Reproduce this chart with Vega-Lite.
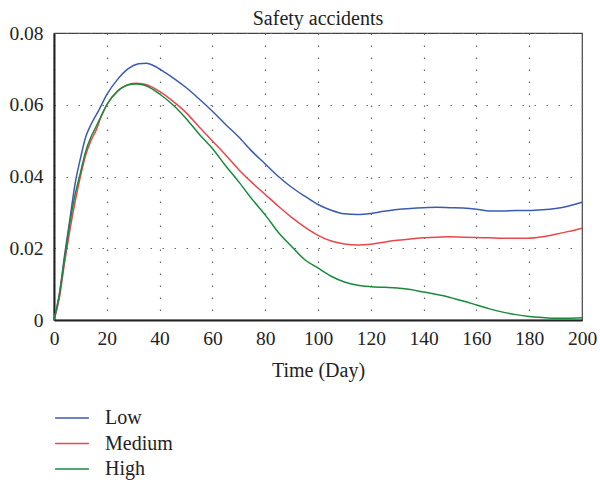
{
  "$schema": "https://vega.github.io/schema/vega-lite/v6.json",
  "autosize": "none",
  "width": 528,
  "height": 287,
  "padding": {"left": 54, "top": 33, "right": 18, "bottom": 163},
  "background": "white",
  "title": {"text": "Safety accidents", "font": "Liberation Serif", "fontSize": 20, "fontWeight": "normal", "color": "#222", "offset": 0, "dy": 6, "anchor": "middle", "frame": "group"},
  "config": {
    "view": {"stroke": "#444", "strokeWidth": 1.2},
    "axis": {"labelFont": "Liberation Serif", "titleFont": "Liberation Serif", "labelFontSize": 19.5, "titleFontSize": 20, "titleFontWeight": "normal", "labelColor": "#222", "titleColor": "#222", "domainColor": "#222", "domainWidth": 2, "ticks": false, "gridColor": "#666", "gridDash": [1.5, 10.5], "gridWidth": 1.2, "gridOpacity": 1}
  },
  "data": {"values": [
    {"t":0,"v":0,"s":"Low"},{"t":2,"v":0.007,"s":"Low"},{"t":4,"v":0.018,"s":"Low"},{"t":6,"v":0.028,"s":"Low"},{"t":8,"v":0.038,"s":"Low"},{"t":10,"v":0.045,"s":"Low"},{"t":12,"v":0.051,"s":"Low"},{"t":14,"v":0.0545,"s":"Low"},{"t":17,"v":0.0585,"s":"Low"},{"t":20,"v":0.0628,"s":"Low"},{"t":24,"v":0.0670,"s":"Low"},{"t":28,"v":0.0700,"s":"Low"},{"t":32,"v":0.0714,"s":"Low"},{"t":35,"v":0.0716,"s":"Low"},{"t":38,"v":0.0708,"s":"Low"},{"t":42,"v":0.0690,"s":"Low"},{"t":46,"v":0.0670,"s":"Low"},{"t":50,"v":0.0648,"s":"Low"},{"t":55,"v":0.0616,"s":"Low"},{"t":60,"v":0.0582,"s":"Low"},{"t":65,"v":0.0545,"s":"Low"},{"t":70,"v":0.0510,"s":"Low"},{"t":75,"v":0.0470,"s":"Low"},{"t":80,"v":0.0435,"s":"Low"},{"t":85,"v":0.0400,"s":"Low"},{"t":90,"v":0.0370,"s":"Low"},{"t":95,"v":0.0345,"s":"Low"},{"t":100,"v":0.0322,"s":"Low"},{"t":105,"v":0.0306,"s":"Low"},{"t":110,"v":0.0296,"s":"Low"},{"t":115,"v":0.0294,"s":"Low"},{"t":120,"v":0.0297,"s":"Low"},{"t":125,"v":0.0303,"s":"Low"},{"t":130,"v":0.0308,"s":"Low"},{"t":135,"v":0.0311,"s":"Low"},{"t":140,"v":0.0313,"s":"Low"},{"t":145,"v":0.0314,"s":"Low"},{"t":150,"v":0.0313,"s":"Low"},{"t":155,"v":0.0312,"s":"Low"},{"t":160,"v":0.0309,"s":"Low"},{"t":165,"v":0.0304,"s":"Low"},{"t":170,"v":0.0304,"s":"Low"},{"t":175,"v":0.0305,"s":"Low"},{"t":180,"v":0.0305,"s":"Low"},{"t":185,"v":0.0307,"s":"Low"},{"t":190,"v":0.0311,"s":"Low"},{"t":195,"v":0.0318,"s":"Low"},{"t":200,"v":0.0328,"s":"Low"},
    {"t":0,"v":0,"s":"Medium"},{"t":2,"v":0.006,"s":"Medium"},{"t":4,"v":0.016,"s":"Medium"},{"t":6,"v":0.025,"s":"Medium"},{"t":8,"v":0.033,"s":"Medium"},{"t":10,"v":0.040,"s":"Medium"},{"t":12,"v":0.046,"s":"Medium"},{"t":14,"v":0.050,"s":"Medium"},{"t":16,"v":0.053,"s":"Medium"},{"t":18,"v":0.057,"s":"Medium"},{"t":20,"v":0.060,"s":"Medium"},{"t":24,"v":0.0638,"s":"Medium"},{"t":28,"v":0.0656,"s":"Medium"},{"t":31,"v":0.0660,"s":"Medium"},{"t":34,"v":0.0658,"s":"Medium"},{"t":37,"v":0.0650,"s":"Medium"},{"t":40,"v":0.0637,"s":"Medium"},{"t":45,"v":0.0610,"s":"Medium"},{"t":50,"v":0.0578,"s":"Medium"},{"t":55,"v":0.0538,"s":"Medium"},{"t":60,"v":0.0499,"s":"Medium"},{"t":65,"v":0.0460,"s":"Medium"},{"t":70,"v":0.0419,"s":"Medium"},{"t":75,"v":0.0383,"s":"Medium"},{"t":80,"v":0.0350,"s":"Medium"},{"t":85,"v":0.0317,"s":"Medium"},{"t":90,"v":0.0286,"s":"Medium"},{"t":95,"v":0.0259,"s":"Medium"},{"t":100,"v":0.0236,"s":"Medium"},{"t":105,"v":0.0220,"s":"Medium"},{"t":110,"v":0.0212,"s":"Medium"},{"t":115,"v":0.0209,"s":"Medium"},{"t":120,"v":0.0211,"s":"Medium"},{"t":125,"v":0.0217,"s":"Medium"},{"t":130,"v":0.0222,"s":"Medium"},{"t":135,"v":0.0226,"s":"Medium"},{"t":140,"v":0.0229,"s":"Medium"},{"t":145,"v":0.0231,"s":"Medium"},{"t":150,"v":0.0232,"s":"Medium"},{"t":155,"v":0.0231,"s":"Medium"},{"t":160,"v":0.0230,"s":"Medium"},{"t":165,"v":0.0229,"s":"Medium"},{"t":170,"v":0.0228,"s":"Medium"},{"t":175,"v":0.0228,"s":"Medium"},{"t":180,"v":0.0228,"s":"Medium"},{"t":185,"v":0.0232,"s":"Medium"},{"t":190,"v":0.0239,"s":"Medium"},{"t":195,"v":0.0247,"s":"Medium"},{"t":200,"v":0.0256,"s":"Medium"},
    {"t":0,"v":0,"s":"High"},{"t":2,"v":0.007,"s":"High"},{"t":4,"v":0.017,"s":"High"},{"t":6,"v":0.027,"s":"High"},{"t":8,"v":0.035,"s":"High"},{"t":10,"v":0.041,"s":"High"},{"t":12,"v":0.047,"s":"High"},{"t":14,"v":0.051,"s":"High"},{"t":16,"v":0.054,"s":"High"},{"t":18,"v":0.057,"s":"High"},{"t":20,"v":0.0600,"s":"High"},{"t":24,"v":0.0637,"s":"High"},{"t":28,"v":0.0655,"s":"High"},{"t":31,"v":0.0658,"s":"High"},{"t":34,"v":0.0655,"s":"High"},{"t":37,"v":0.0645,"s":"High"},{"t":40,"v":0.0630,"s":"High"},{"t":45,"v":0.0600,"s":"High"},{"t":50,"v":0.0562,"s":"High"},{"t":55,"v":0.0518,"s":"High"},{"t":60,"v":0.0478,"s":"High"},{"t":65,"v":0.0430,"s":"High"},{"t":70,"v":0.0385,"s":"High"},{"t":75,"v":0.0337,"s":"High"},{"t":80,"v":0.0293,"s":"High"},{"t":85,"v":0.0244,"s":"High"},{"t":90,"v":0.0205,"s":"High"},{"t":95,"v":0.0168,"s":"High"},{"t":100,"v":0.0145,"s":"High"},{"t":105,"v":0.0122,"s":"High"},{"t":110,"v":0.0106,"s":"High"},{"t":115,"v":0.0097,"s":"High"},{"t":120,"v":0.0093,"s":"High"},{"t":125,"v":0.0091,"s":"High"},{"t":130,"v":0.0089,"s":"High"},{"t":135,"v":0.0085,"s":"High"},{"t":140,"v":0.0078,"s":"High"},{"t":145,"v":0.0071,"s":"High"},{"t":150,"v":0.0063,"s":"High"},{"t":155,"v":0.0053,"s":"High"},{"t":160,"v":0.0042,"s":"High"},{"t":165,"v":0.0031,"s":"High"},{"t":170,"v":0.0022,"s":"High"},{"t":175,"v":0.0015,"s":"High"},{"t":180,"v":0.0010,"s":"High"},{"t":185,"v":0.0007,"s":"High"},{"t":190,"v":0.0005,"s":"High"},{"t":195,"v":0.0005,"s":"High"},{"t":200,"v":0.0006,"s":"High"}
  ]},
  "mark": {"type": "line", "strokeWidth": 1.5, "interpolate": "monotone"},
  "encoding": {
    "x": {"field": "t", "type": "quantitative", "title": "Time (Day)",
      "scale": {"domain": [0, 200], "nice": false},
      "axis": {"values": [0,20,40,60,80,100,120,140,160,180,200], "labelPadding": 9, "titlePadding": 13, "labelFlush": false}},
    "y": {"field": "v", "type": "quantitative", "title": null,
      "scale": {"domain": [0, 0.08], "nice": false},
      "axis": {"values": [0,0.02,0.04,0.06,0.08], "format": "~g", "labelPadding": 11, "labelFlush": false}},
    "color": {"field": "s", "type": "nominal", "title": null,
      "scale": {"domain": ["Low", "Medium", "High"], "range": ["#3a5bb0", "#e8474c", "#178a3c"]},
      "legend": {"orient": "none", "legendX": 4, "legendY": 371, "symbolType": "M-1.3,0H1.3", "symbolSize": 676, "symbolStrokeWidth": 1.5, "labelFont": "Liberation Serif", "labelFontSize": 20, "labelColor": "#222", "labelOffset": 19, "rowPadding": 1.5}},
    "order": {"field": "t", "type": "quantitative"}
  }
}
